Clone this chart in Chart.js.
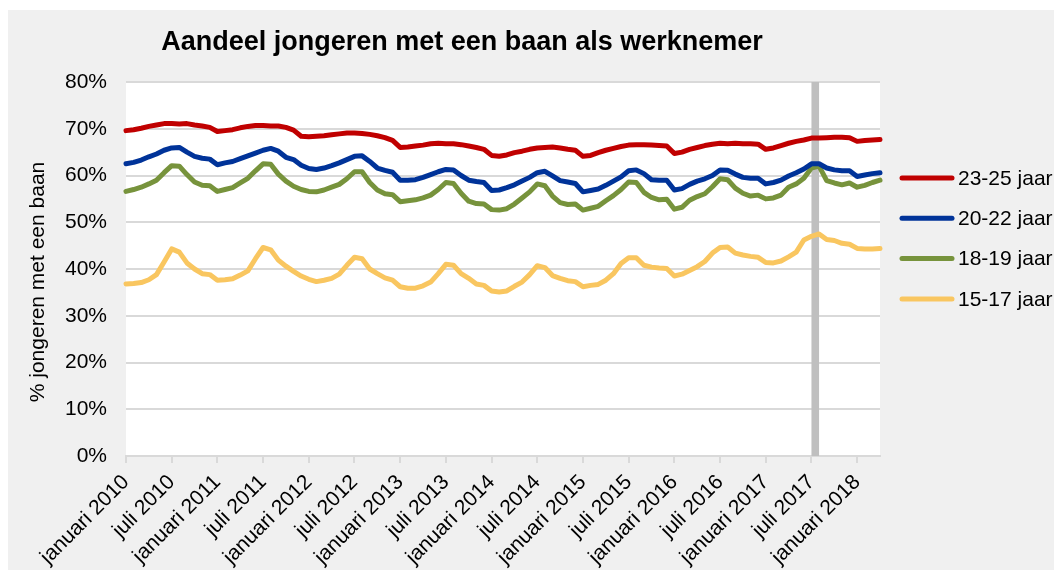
<!DOCTYPE html>
<html>
<head>
<meta charset="utf-8">
<script src="https://cdn.jsdelivr.net/npm/chart.js@4.4.1/dist/chart.umd.min.js"></script>
<style>
  html, body { margin: 0; padding: 0; background: #ffffff; overflow: hidden; }
  #box { position: absolute; left: 8px; top: 10px; width: 1046px; height: 560px; background: #f0f0f0; }
</style>
</head>
<body>
<div id="box"><canvas id="chart"></canvas></div>
<script>
// months januari 2010 .. april 2018
const monthNames = ['januari', 'februari', 'maart', 'april', 'mei', 'juni', 'juli',
  'augustus', 'september', 'oktober', 'november', 'december'];
const years = [2010, 2011, 2012, 2013, 2014, 2015, 2016, 2017, 2018];
const monthCount = 100;

const tickLabels = ['januari 2010', 'juli 2010', 'januari 2011', 'juli 2011', 'januari 2012',
  'juli 2012', 'januari 2013', 'juli 2013', 'januari 2014', 'juli 2014', 'januari 2015',
  'juli 2015', 'januari 2016', 'juli 2016', 'januari 2017', 'juli 2017', 'januari 2018'];

const seriesNames = ['23-25 jaar', '20-22 jaar', '18-19 jaar', '15-17 jaar'];
const seriesColors = ['#c00000', '#003399', '#77933c', '#f9c660'];

// % jongeren met een baan, per maand
const age23to25 = [
  69.6, 69.8, 70.1, 70.5, 70.8, 71.1, 71.1, 71.0, 71.1, 70.8, 70.6, 70.3,
  69.4, 69.6, 69.8, 70.2, 70.5, 70.7, 70.7, 70.6, 70.6, 70.3, 69.7, 68.4,
  68.3, 68.4, 68.5, 68.7, 68.9, 69.1, 69.1, 69.0, 68.8, 68.5, 68.1, 67.5,
  66.0, 66.1, 66.3, 66.5, 66.8, 66.9, 66.8, 66.8, 66.6, 66.3, 66.0, 65.6,
  64.3, 64.1, 64.4, 64.9, 65.2, 65.6, 65.9, 66.0, 66.1, 65.9, 65.6, 65.4,
  64.1, 64.3, 64.9, 65.4, 65.8, 66.2, 66.5, 66.6, 66.6, 66.5, 66.4, 66.3,
  64.7, 65.0, 65.6, 66.0, 66.4, 66.7, 66.9, 66.8, 66.9, 66.8, 66.8, 66.7,
  65.6, 65.9, 66.4, 66.9, 67.3, 67.6, 68.0, 68.0, 68.1, 68.2, 68.2, 68.1,
  67.3, 67.5, 67.6, 67.7
];
const age20to22 = [
  62.5, 62.8, 63.3, 64.0, 64.6, 65.4, 65.9, 66.0, 65.0, 64.1, 63.7, 63.5,
  62.3, 62.7, 63.0, 63.6, 64.2, 64.8, 65.4, 65.8, 65.2, 63.9, 63.4, 62.2,
  61.5, 61.3, 61.6, 62.1, 62.7, 63.4, 64.1, 64.2, 63.0, 61.6, 61.1, 60.7,
  59.0, 59.0, 59.1, 59.6, 60.2, 60.8, 61.3, 61.2, 60.0, 59.0, 58.7, 58.5,
  56.8, 56.9, 57.4, 58.0, 58.8, 59.6, 60.6, 60.9, 59.9, 58.9, 58.6, 58.3,
  56.5, 56.8, 57.1, 57.9, 58.8, 59.7, 61.0, 61.2, 60.4, 59.1, 59.0, 59.0,
  56.9, 57.2, 58.1, 58.8, 59.3, 60.0, 61.2, 61.1, 60.3, 59.6, 59.4, 59.4,
  58.2, 58.5, 59.0, 59.9, 60.6, 61.4, 62.5, 62.5, 61.6, 61.2, 61.0, 61.0,
  59.8, 60.1, 60.4, 60.6
];
const age18to19 = [
  56.6, 57.0, 57.5, 58.2, 59.0, 60.6, 62.1, 62.0, 60.2, 58.6, 57.9, 57.8,
  56.6, 57.0, 57.4, 58.4, 59.4, 61.0, 62.5, 62.4, 60.3, 58.8, 57.7, 57.0,
  56.6, 56.5, 56.9, 57.5, 58.1, 59.3, 60.8, 60.8, 58.5, 56.9, 56.1, 55.9,
  54.4, 54.6, 54.8, 55.2, 55.8, 57.0, 58.5, 58.3, 56.2, 54.5, 54.0, 53.9,
  52.7, 52.6, 52.9, 53.9, 55.2, 56.5, 58.2, 57.8, 55.6, 54.2, 53.8, 53.9,
  52.6, 53.0, 53.4, 54.6, 55.7, 57.0, 58.6, 58.5, 56.4, 55.3, 54.8, 54.9,
  52.8, 53.2, 54.7, 55.5, 56.1, 57.6, 59.3, 59.1, 57.3, 56.2, 55.6, 55.8,
  55.0, 55.2, 55.8, 57.5, 58.2, 59.4, 61.6, 62.0, 58.9, 58.4, 58.0, 58.4,
  57.5, 57.9, 58.5, 59.0
];
const age15to17 = [
  36.8, 36.9, 37.1, 37.7, 38.8, 41.5, 44.3, 43.6, 41.3, 40.0, 39.0, 38.8,
  37.6, 37.7, 37.9, 38.7, 39.6, 42.2, 44.6, 44.1, 41.9, 40.6, 39.5, 38.5,
  37.8, 37.3, 37.6, 38.0, 38.9, 40.8, 42.5, 42.2, 40.0, 39.0, 38.1, 37.6,
  36.2, 35.9, 35.9, 36.4, 37.2, 39.0, 41.0, 40.8, 39.0, 38.0, 36.8, 36.5,
  35.3, 35.1, 35.3, 36.3, 37.2, 38.8, 40.7, 40.3, 38.6, 38.0, 37.5, 37.3,
  36.2, 36.5, 36.7, 37.6, 39.0, 41.2, 42.4, 42.4, 40.8, 40.4, 40.2, 40.1,
  38.5, 38.9, 39.7, 40.5, 41.6, 43.4, 44.6, 44.7, 43.4, 43.0, 42.7, 42.5,
  41.4, 41.3, 41.7, 42.6, 43.6, 46.2, 47.0, 47.5, 46.3, 46.1, 45.5, 45.3,
  44.4, 44.3, 44.3, 44.4
];
const seriesValues = [age23to25, age20to22, age18to19, age15to17];

const markerMonth = 'juli 2017';   // grey band marks this month

const yTicks = [0, 10, 20, 30, 40, 50, 60, 70, 80];

const monthLabels = [];
years.forEach(y => monthNames.forEach(m => monthLabels.push(m + ' ' + y)));
monthLabels.length = monthCount;

const FONT = '"Liberation Sans", Arial, Helvetica, sans-serif';

// white plot area on the grey chart background
const plotBackground = {
  id: 'plotBackground',
  beforeDraw(chart) {
    const { ctx, chartArea: a } = chart;
    ctx.save();
    ctx.fillStyle = '#ffffff';
    ctx.fillRect(a.left, a.top, a.right - a.left, a.bottom - a.top);
    ctx.restore();
  }
};

// grey vertical band, one month wide
const markerBand = {
  id: 'markerBand',
  beforeDatasetsDraw(chart) {
    const { ctx, chartArea: a, scales } = chart;
    const i = monthLabels.indexOf(markerMonth);
    const x0 = scales.x.getPixelForValue(i);
    const x1 = scales.x.getPixelForValue(i + 1);
    ctx.save();
    ctx.fillStyle = '#bfbfbf';
    ctx.fillRect(x0, a.top, x1 - x0, a.bottom - a.top);
    ctx.restore();
  }
};

// title, axis title and legend the way the spreadsheet placed them
const titleAndLegend = {
  id: 'titleAndLegend',
  afterDraw(chart) {
    const { ctx, chartArea: a } = chart;
    ctx.save();
    ctx.fillStyle = '#000000';
    ctx.font = 'bold 27px ' + FONT;
    ctx.textAlign = 'center';
    ctx.textBaseline = 'middle';
    ctx.fillText('Aandeel jongeren met een baan als werknemer', 454, 33);

    // y axis title, a bit below the middle of the axis like the original
    ctx.save();
    ctx.font = '21px ' + FONT;
    ctx.translate(30, 272);
    ctx.rotate(-Math.PI / 2);
    ctx.fillText('% jongeren met een baan', 0, 0);
    ctx.restore();

    ctx.font = '21px ' + FONT;
    ctx.textAlign = 'left';
    chart.data.datasets.forEach((ds, i) => {
      const y = a.top + 96 + i * 40.3;
      const x = a.right + 22;
      ctx.strokeStyle = ds.borderColor;
      ctx.lineWidth = 5;
      ctx.lineCap = 'round';
      ctx.beginPath();
      ctx.moveTo(x, y);
      ctx.lineTo(x + 50, y);
      ctx.stroke();
      ctx.fillStyle = '#000000';
      ctx.fillText(ds.label, x + 56, y + 1);
    });
    ctx.restore();
  }
};

new Chart(document.getElementById('chart'), {
  type: 'line',
  data: {
    labels: monthLabels,
    datasets: seriesNames.map((name, i) => ({
      label: name,
      data: seriesValues[i],
      borderColor: seriesColors[i],
      backgroundColor: seriesColors[i],
      borderWidth: 5,
      borderJoinStyle: 'round',
      borderCapStyle: 'round',
      pointRadius: 0,
      tension: 0,
      clip: false
    }))
  },
  options: {
    responsive: true,
    maintainAspectRatio: false,
    animation: false,
    layout: { padding: { left: 0, top: 72, right: 174, bottom: 0 } },
    plugins: {
      legend: { display: false },
      title: { display: false },
      tooltip: { enabled: false }
    },
    scales: {
      x: {
        offset: false,
        afterFit(scale) { scale.height = 114; },
        grid: {
          drawOnChartArea: false,
          drawTicks: true,
          tickLength: 7,
          lineWidth: 2,
          color: c => (tickLabels.includes(monthLabels[c.index]) ? '#d9d9d9' : 'rgba(0,0,0,0)')
        },
        border: { display: true, color: '#d9d9d9', width: 2 },
        ticks: {
          autoSkip: false,
          maxRotation: 45,
          minRotation: 45,
          padding: 7,
          color: '#000000',
          font: { family: FONT, size: 21 },
          callback: (v, i) => (tickLabels.includes(monthLabels[i]) ? monthLabels[i] : '')
        }
      },
      y: {
        min: 0,
        max: 80,
        afterFit(scale) { scale.width = 118; },
        afterBuildTicks(scale) { scale.ticks = yTicks.map(v => ({ value: v })); },
        grid: { color: '#d9d9d9', lineWidth: 2, drawTicks: false },
        border: { display: false },
        ticks: {
          padding: 19,
          color: '#000000',
          font: { family: FONT, size: 21 },
          callback: v => v + '%'
        }
      }
    }
  },
  plugins: [plotBackground, markerBand, titleAndLegend]
});
</script>
</body>
</html>
